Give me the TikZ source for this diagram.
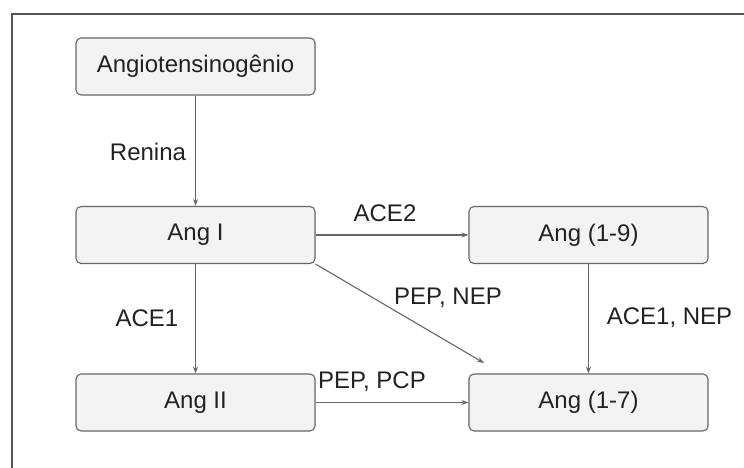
\documentclass[tikz,border=0pt]{standalone}
\usepackage{fontspec}
\setmainfont{Liberation Sans}
\usetikzlibrary{arrows.meta}
\definecolor{linegray}{HTML}{666666}
\definecolor{boxfill}{HTML}{F3F3F3}
\definecolor{framegray}{HTML}{555555}
\definecolor{txt}{HTML}{222222}
\begin{document}
\begin{tikzpicture}[x=1pt,y=-1pt,
  box/.style={draw=linegray, line width=1.1pt, fill=boxfill, rounded corners=5pt,
    minimum width=239pt, minimum height=57pt, inner sep=0pt,
    font=\fontsize{24}{28}\selectfont, text=txt},
  conn/.style={draw=linegray, line width=1.1pt, -{Stealth[length=7pt,width=5pt]}},
  lbl/.style={font=\fontsize{24}{28}\selectfont, text=txt, inner sep=0pt}]
\useasboundingbox (0,0) rectangle (744,468);
\fill[white] (0,0) rectangle (744,468);
\draw[framegray, line width=1.3pt] (12,468) -- (12,14) -- (744,14);

\node[box] (angio) at (195.5,66.5) {Angiotensinogênio};
\node[box] (ang1) at (195.5,235) {Ang I};
\node[box] (ang2) at (195.5,402.5) {Ang II};
\node[box] (ang19) at (588.5,235) {Ang (1-9)};
\node[box] (ang17) at (588.5,402.5) {Ang (1-7)};
\coordinate (diagend) at (484,363);

\draw[conn] (angio) -- (ang1);
\draw[conn] (ang1) -- (ang2);
\draw[conn] (ang1) -- (ang19);
\draw[conn] (ang19) -- (ang17);
\draw[conn] (ang2) -- (ang17);
\draw[conn] (ang1.south east) -- (diagend);

\node[lbl] (renina) at (148,152) {Renina};
\node[lbl] (ace2) at (385,213) {ACE2};
\node[lbl] (ace1) at (147,318) {ACE1};
\node[lbl] (pepnep) at (448,298) {PEP, NEP};
\node[lbl] (ace1nep) at (669.5,318) {ACE1, NEP};
\node[lbl] (peppcp) at (372,382) {PEP, PCP};
\end{tikzpicture}
\end{document}
